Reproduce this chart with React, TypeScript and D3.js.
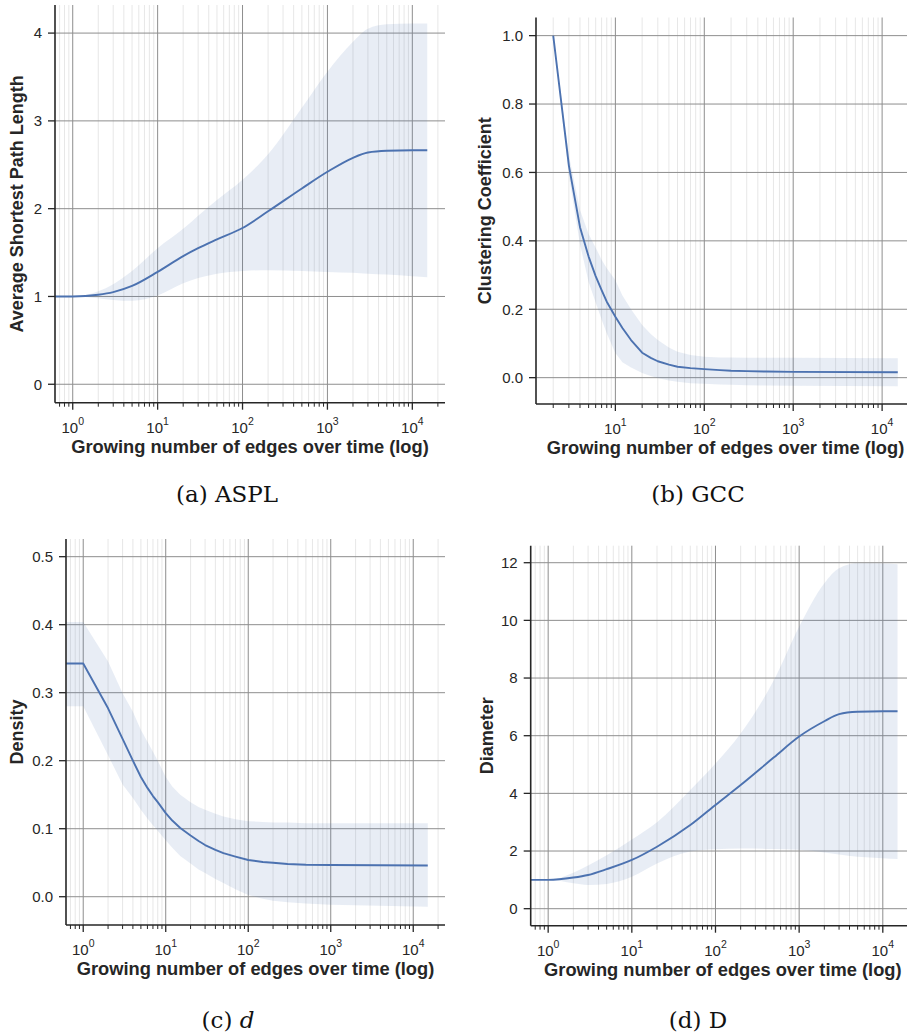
import React from "react";
import * as d3 from "d3";

// ---------- data ----------
const X_ASPL = [0, 1, 2, 3, 5, 10, 20, 30, 50, 100, 200, 500, 1000, 2000, 3000, 5000, 10000, 15000];
const ASPL_MEAN = [1, 1, 1.02, 1.05, 1.12, 1.28, 1.46, 1.55, 1.65, 1.78, 1.97, 2.23, 2.42, 2.58, 2.64, 2.66, 2.665, 2.665];
const ASPL_HI = [1, 1, 1.06, 1.14, 1.29, 1.55, 1.77, 1.92, 2.1, 2.33, 2.62, 3.15, 3.56, 3.9, 4.05, 4.1, 4.11, 4.11];
const ASPL_LO = [1, 1, 0.98, 0.96, 0.95, 1.01, 1.15, 1.21, 1.26, 1.29, 1.3, 1.29, 1.28, 1.27, 1.26, 1.25, 1.23, 1.22];

const X_GCC = [2, 3, 4, 5, 6, 7, 8, 10, 12, 15, 20, 25, 30, 40, 50, 70, 100, 150, 200, 300, 500, 1000, 15000];
const GCC_MEAN = [1.0, 0.62, 0.44, 0.354, 0.297, 0.256, 0.222, 0.178, 0.145, 0.11, 0.073, 0.058, 0.048, 0.038, 0.032, 0.028, 0.025, 0.022, 0.02, 0.019, 0.018, 0.017, 0.016];
const GCC_HI = [1.0, 0.65, 0.49, 0.42, 0.38, 0.345, 0.32, 0.285, 0.24, 0.2, 0.154, 0.128, 0.11, 0.088, 0.076, 0.066, 0.061, 0.059, 0.059, 0.058, 0.058, 0.058, 0.057];
const GCC_LO = [1.0, 0.59, 0.39, 0.28, 0.22, 0.17, 0.13, 0.072, 0.045, 0.03, 0.014, 0.005, -0.001, -0.008, -0.012, -0.016, -0.018, -0.02, -0.021, -0.022, -0.023, -0.024, -0.025];

const X_DENS = [0, 1, 2, 3, 4, 5, 6, 7, 8, 10, 12, 15, 20, 25, 30, 40, 50, 70, 100, 150, 200, 300, 500, 1000, 15000];
const DENS_MEAN = [0.343, 0.343, 0.277, 0.232, 0.2, 0.176, 0.16, 0.148, 0.139, 0.123, 0.112, 0.101, 0.09, 0.082, 0.076, 0.069, 0.064, 0.059, 0.054, 0.051, 0.05, 0.048, 0.047, 0.0466, 0.046];
const DENS_HI = [0.404, 0.404, 0.346, 0.299, 0.272, 0.245, 0.228, 0.213, 0.2, 0.176, 0.162, 0.15, 0.139, 0.132, 0.128, 0.122, 0.118, 0.114, 0.111, 0.11, 0.109, 0.109, 0.108, 0.108, 0.108];
const DENS_LO = [0.28, 0.28, 0.208, 0.165, 0.145, 0.128, 0.115, 0.105, 0.097, 0.083, 0.072, 0.06, 0.049, 0.04, 0.035, 0.026, 0.02, 0.011, 0.0025, -0.003, -0.006, -0.008, -0.01, -0.012, -0.0147];

const X_DIAM = [0, 1, 2, 3, 5, 10, 20, 50, 100, 200, 500, 1000, 2000, 3000, 5000, 10000, 15000];
const DIAM_MEAN = [1, 1, 1.08, 1.17, 1.37, 1.69, 2.15, 2.9, 3.6, 4.29, 5.25, 5.97, 6.5, 6.75, 6.83, 6.85, 6.85];
const DIAM_HI = [1, 1, 1.25, 1.5, 1.85, 2.4, 3.0, 4.12, 5.04, 6.08, 7.93, 9.78, 11.29, 11.81, 11.98, 11.97, 11.95];
const DIAM_LO = [1, 1, 0.88, 0.82, 0.86, 1.11, 1.57, 1.98, 2.06, 2.09, 2.07, 2.04, 1.95, 1.88, 1.8, 1.75, 1.72];

const Y_TICKS_ASPL = [0, 1, 2, 3, 4];
const Y_TICKS_GCC = [0, 0.2, 0.4, 0.6, 0.8, 1.0];
const Y_TICKS_DENS = [0, 0.1, 0.2, 0.3, 0.4, 0.5];
const Y_TICKS_DIAM = [0, 2, 4, 6, 8, 10, 12];

const X_LABEL = "Growing number of edges over time (log)";

// ---------- layout / style ----------
const LINE = "#4c72b0";
const INK = "#262626";
const SANS = "'Liberation Sans', Arial, sans-serif";
const SERIF = "'DejaVu Serif', 'Liberation Serif', serif";

type Panel = {
  id: string;
  box: { l: number; r: number; t: number; b: number };
  xExtent: [number, number];
  yDomain: [number, number];
  yTicks: number[];
  fmt: (v: number) => string;
  yLabel: string;
  yLabelX: number;
  caption: React.ReactNode;
  capX: number;
  capY: number;
  x: number[];
  mean: number[];
  hi: number[];
  lo: number[];
  curve: d3.CurveFactory;
};

const f0 = (v: number) => String(v);
const f1 = (v: number) => v.toFixed(1);

const PANELS: Panel[] = [
  {
    id: "a", box: { l: 55, r: 445, t: 5, b: 402.7 }, xExtent: [1, 15000], yDomain: [-0.21, 4.32],
    yTicks: Y_TICKS_ASPL, fmt: f0, yLabel: "Average Shortest Path Length", yLabelX: 23,
    caption: <>(a) ASPL</>, capX: 227, capY: 502,
    x: X_ASPL, mean: ASPL_MEAN, hi: ASPL_HI, lo: ASPL_LO, curve: d3.curveMonotoneX,
  },
  {
    id: "b", box: { l: 536, r: 915, t: 17.5, b: 404 }, xExtent: [2, 15000], yDomain: [-0.077, 1.053],
    yTicks: Y_TICKS_GCC, fmt: f1, yLabel: "Clustering Coefficient", yLabelX: 491,
    caption: <>(b) GCC</>, capX: 698, capY: 502,
    x: X_GCC, mean: GCC_MEAN, hi: GCC_HI, lo: GCC_LO, curve: d3.curveLinear,
  },
  {
    id: "c", box: { l: 66, r: 445, t: 539, b: 925 }, xExtent: [1, 15000], yDomain: [-0.0416, 0.526],
    yTicks: Y_TICKS_DENS, fmt: f1, yLabel: "Density", yLabelX: 23,
    caption: <>(c) <tspan fontStyle="italic">d</tspan></>, capX: 228, capY: 1028,
    x: X_DENS, mean: DENS_MEAN, hi: DENS_HI, lo: DENS_LO, curve: d3.curveLinear,
  },
  {
    id: "d", box: { l: 530.7, r: 915, t: 545.7, b: 925.7 }, xExtent: [1, 15000], yDomain: [-0.59, 12.59],
    yTicks: Y_TICKS_DIAM, fmt: f0, yLabel: "Diameter", yLabelX: 493,
    caption: <>(d) D</>, capX: 698, capY: 1028,
    x: X_DIAM, mean: DIAM_MEAN, hi: DIAM_HI, lo: DIAM_LO, curve: d3.curveMonotoneX,
  },
];

function PanelView({ p }: { p: Panel }) {
  const { l, r, t, b } = p.box;
  const lg0 = Math.log10(p.xExtent[0]);
  const lg1 = Math.log10(p.xExtent[1]);
  const pad = 0.05 * (lg1 - lg0);
  const d0 = Math.pow(10, lg0 - pad);
  const d1 = Math.pow(10, lg1 + pad);
  const xs = d3.scaleLog().domain([d0, d1]).range([l, r]);
  const ys = d3.scaleLinear().domain(p.yDomain).range([b, t]);
  const px = (v: number) => (v > 0 ? xs(v) : l - 5);

  const majors: number[] = [];
  const minors: number[] = [];
  for (let k = Math.floor(Math.log10(d0)); k <= Math.ceil(Math.log10(d1)); k++) {
    const base = Math.pow(10, k);
    if (base >= d0 && base <= d1) majors.push(k);
    for (let m = 2; m <= 9; m++) {
      const v = m * base;
      if (v >= d0 && v <= d1) minors.push(v);
    }
  }

  const idx = p.x.map((_, i) => i);
  const area = d3.area<number>()
    .x((i) => px(p.x[i]))
    .y0((i) => ys(p.lo[i]))
    .y1((i) => ys(p.hi[i]))
    .curve(p.curve);
  const line = d3.line<number>()
    .x((i) => px(p.x[i]))
    .y((i) => ys(p.mean[i]))
    .curve(p.curve);

  const clipId = `clip-${p.id}`;
  const cx = (l + r) / 2;
  const cy = (t + b) / 2;

  return (
    <g>
      <defs>
        <clipPath id={clipId}>
          <rect x={l} y={t} width={r - l} height={b - t} />
        </clipPath>
      </defs>
      {minors.map((v) => (
        <line key={`mg${v}`} x1={xs(v)} x2={xs(v)} y1={t} y2={b} stroke="#e4e4e4" strokeWidth={0.9} />
      ))}
      {majors.map((k) => (
        <line key={`Mg${k}`} x1={xs(Math.pow(10, k))} x2={xs(Math.pow(10, k))} y1={t} y2={b} stroke="#8e8e8e" strokeWidth={1} />
      ))}
      {p.yTicks.map((v) => (
        <line key={`yg${v}`} x1={l} x2={r} y1={ys(v)} y2={ys(v)} stroke="#8e8e8e" strokeWidth={1} />
      ))}
      <g clipPath={`url(#${clipId})`}>
        <path d={area(idx) || ""} fill={LINE} fillOpacity={0.13} stroke="none" />
        <path d={line(idx) || ""} fill="none" stroke={LINE} strokeWidth={1.9} strokeLinejoin="round" />
      </g>
      <line x1={l} x2={l} y1={t} y2={b} stroke={INK} strokeWidth={1.6} />
      <line x1={l} x2={r} y1={b} y2={b} stroke={INK} strokeWidth={1.6} />
      {p.yTicks.map((v) => (
        <g key={`yt${v}`}>
          <line x1={l - 7} x2={l} y1={ys(v)} y2={ys(v)} stroke={INK} strokeWidth={1.3} />
          <text x={l - 13} y={ys(v)} dy="0.36em" textAnchor="end" fontFamily={SANS} fontSize={15} fill={INK}>
            {p.fmt(v)}
          </text>
        </g>
      ))}
      {minors.map((v) => (
        <line key={`mt${v}`} x1={xs(v)} x2={xs(v)} y1={b} y2={b + 4} stroke={INK} strokeWidth={1} />
      ))}
      {majors.map((k) => (
        <g key={`xt${k}`}>
          <line x1={xs(Math.pow(10, k))} x2={xs(Math.pow(10, k))} y1={b} y2={b + 7} stroke={INK} strokeWidth={1.3} />
          <text x={xs(Math.pow(10, k))} y={b + 30} textAnchor="middle" fontFamily={SANS} fontSize={15} fill={INK}>
            <tspan>10</tspan>
            <tspan dy={-8} fontSize={10.5}>{k}</tspan>
          </text>
        </g>
      ))}
      <text x={cx} y={b + 50} textAnchor="middle" fontFamily={SANS} fontWeight="bold" fontSize={18.3} fill={INK}>
        {X_LABEL}
      </text>
      <text
        transform={`translate(${p.yLabelX},${cy}) rotate(-90)`}
        textAnchor="middle"
        fontFamily={SANS}
        fontWeight="bold"
        fontSize={18}
        fill={INK}
      >
        {p.yLabel}
      </text>
      <text x={p.capX} y={p.capY} textAnchor="middle" fontFamily={SERIF} fontSize={23} fill="#111">
        {p.caption}
      </text>
    </g>
  );
}

export default function App() {
  return (
    <svg
      width={907}
      height={1034}
      viewBox="0 0 907 1034"
      style={{ position: "absolute", left: 0, top: 0, background: "#fff", overflow: "hidden" }}
    >
      <rect x={0} y={0} width={907} height={1034} fill="#fff" />
      {PANELS.map((p) => (
        <PanelView key={p.id} p={p} />
      ))}
    </svg>
  );
}
